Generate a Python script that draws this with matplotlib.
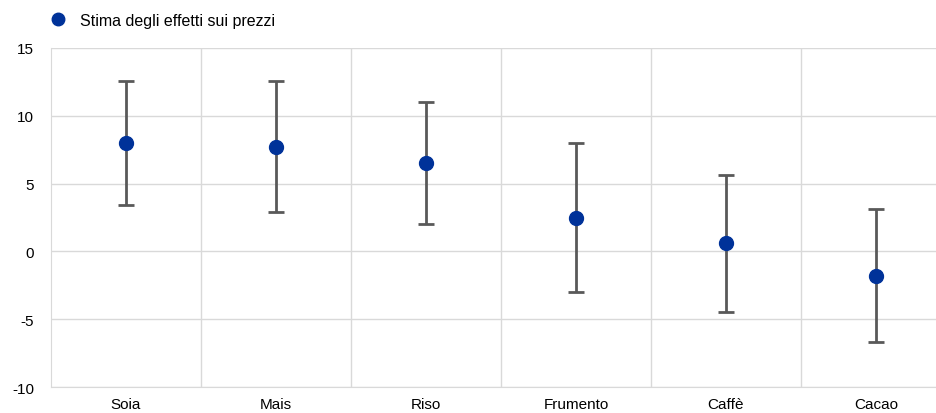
import numpy as np
import matplotlib.pyplot as plt

plt.rcParams['font.family'] = ['Liberation Sans', 'DejaVu Sans']

categories = ['Soia', 'Mais', 'Riso', 'Frumento', 'Caffè', 'Cacao']
estimate = [8.0, 7.7, 6.5, 2.5, 0.6, -1.8]
upper = [12.6, 12.6, 11.0, 8.0, 5.6, 3.1]
lower = [3.4, 2.9, 2.0, -3.0, -4.5, -6.7]
yticks = [-10, -5, 0, 5, 10, 15]

fig = plt.figure(figsize=(9.37, 4.14), dpi=100)
ax = fig.add_axes([51 / 937, 1 - 388 / 414, 900 / 937, (388 - 49) / 414])

x = np.arange(len(categories))
est = np.array(estimate)
err = [est - np.array(lower), np.array(upper) - est]
ax.errorbar(x, est, yerr=err, fmt='none', ecolor='#595959', elinewidth=2,
            capsize=6, capthick=2, zorder=3)
ax.plot(x, est, 'o', color='#003299', markersize=10, zorder=4,
        label='Stima degli effetti sui prezzi')

ax.set_xlim(-0.5, len(categories) - 0.5)
ax.set_ylim(-10, 15)
ax.set_yticks(yticks)
ax.set_yticklabels([str(t) for t in yticks])
ax.set_xticks(x)
ax.set_xticklabels(categories)
ax.set_xticks(x[:-1] + 0.5, minor=True)

ax.grid(axis='y', color='#d9d9d9', linewidth=1)
ax.grid(axis='x', which='minor', color='#d9d9d9', linewidth=1)
ax.set_axisbelow(True)
for s in ['top', 'right']:
    ax.spines[s].set_visible(False)
for s in ['left', 'bottom']:
    ax.spines[s].set_color('#d9d9d9')
ax.tick_params(axis='both', which='both', length=0, labelsize=11, colors='black')
ax.tick_params(axis='y', pad=12)
ax.tick_params(axis='x', pad=7)

fig.legend(loc='upper left', bbox_to_anchor=(50 / 937, 1 - 14 / 414), frameon=False,
           fontsize=11.5, borderpad=0, borderaxespad=0, handlelength=1.0,
           handletextpad=0.85, markerscale=0.9)

fig.savefig('out.png', dpi=100)
